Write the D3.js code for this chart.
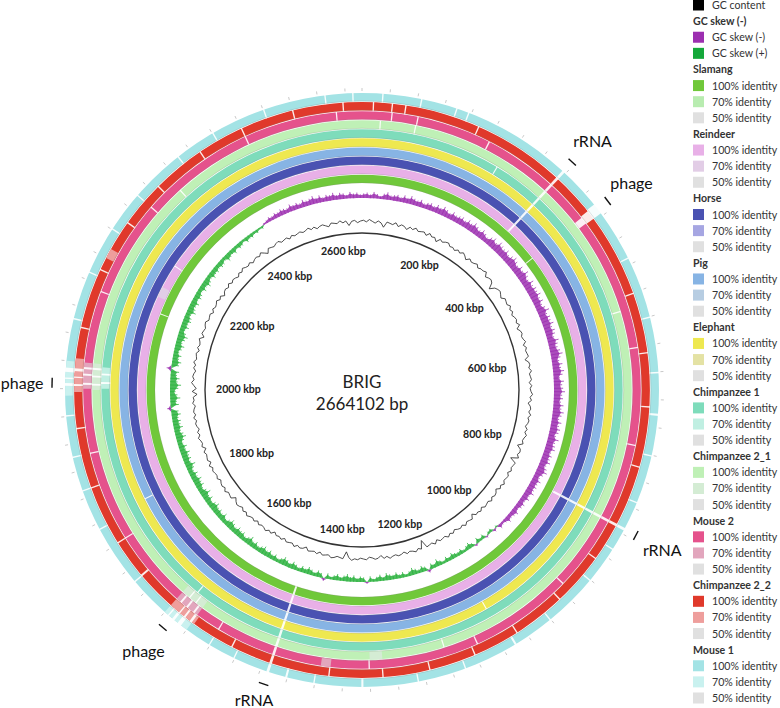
<!DOCTYPE html>
<html>
<head>
<meta charset="utf-8">
<script src="https://cdn.jsdelivr.net/npm/d3@7"></script>
<style>
  body { margin: 0; background: #fff; }
  svg { display: block; font-family: Lato, "Open Sans", sans-serif; }
</style>
</head>
<body>
<svg width="780" height="708"></svg>
<script>
// genome length in kbp
const genomeKbp = 2664.102;

// rings, inner -> outer (same order as legend)
const genomes = ["Slamang", "Reindeer", "Horse", "Pig", "Elephant", "Chimpanzee 1",
  "Chimpanzee 2_1", "Mouse 2", "Chimpanzee 2_2", "Mouse 1"];
const color100 = ["#70c83a", "#e8b0e7", "#4a52b2", "#87b4e4", "#eee850", "#7edcbb",
  "#bff0b6", "#e5528c", "#e0392b", "#a3e3e5"];
const color70 = ["#b8ecb0", "#e2cde6", "#a6a6e2", "#b7cde2", "#e4e2a4", "#c0efe2",
  "#d4ecd4", "#e2a6bd", "#ee9e9c", "#c9f1ef"];
const color50 = "#e0e0e0";

// no-hit stretches per ring [start, end] kbp
const gaps = [
  [[1467, 1471], [386, 388], [2150, 2152]],
  [[314, 318], [871, 875], [1467, 1471], [2245, 2247]],
  [[314, 318], [871, 875], [1467, 1471]],
  [[314, 318], [871, 875], [1467, 1471], [1800, 1802]],
  [[314, 318], [871, 875], [1467, 1471], [1112, 1114]],
  [[230, 232], [314, 318], [871, 875], [1467, 1471], [1620, 1622], [2008, 2011], [2022, 2025]],
  [[28, 30], [84, 86], [314, 318], [540, 542], [871, 875], [1200, 1202], [1467, 1471], [1612, 1614],
   [1625, 1627], [2005, 2008], [2018, 2021], [2030, 2033], [2350, 2352]],
  [[45, 47], [85, 87], [200, 202], [314, 318], [384, 395], [600, 602], [750, 752], [871, 875], [990, 992],
   [1150, 1152], [1320, 1322], [1467, 1471], [1560, 1562], [1605, 1608], [1618, 1621], [1630, 1633],
   [1760, 1762], [1900, 1902], [2006, 2009], [2020, 2023], [2030, 2033], [2150, 2152], [2300, 2302],
   [2480, 2482], [2624, 2626]],
  [[16, 18], [44, 46], [64, 66], [176, 178], [314, 318], [382, 396], [520, 522], [610, 612], [690, 692],
   [780, 782], [871, 875], [930, 932], [1010, 1012], [1090, 1092], [1160, 1162], [1230, 1232], [1300, 1302],
   [1380, 1382], [1467, 1471], [1530, 1532], [1600, 1604], [1612, 1615], [1622, 1624], [1700, 1703],
   [1760, 1762], [1850, 1852], [1940, 1942], [2004, 2007], [2016, 2018], [2026, 2030], [2090, 2092],
   [2180, 2182], [2260, 2262], [2330, 2332], [2410, 2412], [2480, 2482], [2560, 2562], [2635, 2637]],
  [[29, 31], [85, 87], [137, 139], [155, 157], [314, 318], [380, 396], [470, 472], [560, 562], [640, 642],
   [700, 703], [760, 762], [830, 832], [871, 875], [905, 907], [960, 962], [1040, 1042], [1100, 1103],
   [1180, 1182], [1250, 1252], [1330, 1333], [1400, 1402], [1440, 1443], [1467, 1471], [1520, 1522],
   [1560, 1562], [1610, 1616], [1622, 1626], [1632, 1634], [1700, 1702], [1790, 1792], [1850, 1852],
   [1900, 1902], [1960, 1962], [2004, 2008], [2014, 2016], [2024, 2030], [2100, 2102], [2170, 2172],
   [2240, 2242], [2300, 2302], [2380, 2382], [2440, 2442], [2520, 2522], [2610, 2612], [2650, 2652]]
];

// 70% identity stretches per ring
const lowHits = [
  [], [[2180, 2200]], [], [], [], [[2000, 2035]],
  [[1300, 1320], [1600, 1640], [1998, 2040]],
  [[1380, 1395], [1600, 1640], [2000, 2040]],
  [[1596, 1640], [1995, 2045], [2200, 2215]],
  [[1600, 1640], [1990, 2040]]
];

const tickKbp = [200, 400, 600, 800, 1000, 1200, 1400, 1600, 1800, 2000, 2200, 2400, 2600];
const annotLabels = ["rRNA", "phage", "rRNA", "rRNA", "phage", "phage"];
const annotKbp = [316, 388, 873, 1469, 1628, 2008];

// GC skew, one value per window (x0.01); negative = purple
const gcSkew = [
  -5,-6,-4,-7,-5,-3,-6,-8,-5,-6, -7,-5,-8,-6,-9,-7,-6,-8,-5,-7,
  -8,-6,-9,-7,-10,-8,-6,-9,-7,-8, -9,-7,-10,-8,-11,-9,-7,-10,-8,-6,
  -9,-11,-8,-12,-10,-9,-11,-8,-10,-12, -10,-8,-11,-9,-13,-10,-8,-12,-9,-11,
  -10,-12,-9,-11,-8,-10,-13,-9,-11,-10, -12,-9,-11,-10,-8,-12,-10,-9,-11,-13,
  -10,-8,-11,-9,-12,-10,-7,-11,-9,-10, -12,-9,-10,-8,-11,-9,-12,-10,-8,-11,
  -9,-11,-10,-8,-12,-9,-10,-11,-8,-10, -9,-11,-8,-10,-12,-9,-7,-10,-8,-9,
  -8,-10,-7,-9,-6,-8,-7,-5,-8,-6, -5,-7,-4,-3,-5,2,-3,4,3,-2,
  5,3,6,-2,4,7,5,3,6,4, 5,7,4,6,3,5,8,4,6,-3,
  5,7,4,6,8,5,3,6,4,7, 5,6,8,4,7,5,3,6,-2,5,
  6,4,7,5,8,6,4,7,5,3, 6,-3,5,7,4,6,8,5,7,4,
  6,8,5,7,9,6,4,7,5,8, 6,9,7,5,8,6,10,7,5,8,
  7,9,6,8,10,7,5,9,6,8, 7,10,8,6,9,7,11,8,6,9,
  8,10,7,9,6,8,11,7,9,8, 10,7,9,6,8,11,9,7,10,8,
  9,7,10,8,-4,9,7,11,8,6, 9,12,8,10,7,9,-5,8,10,7,
  9,6,8,10,7,9,11,8,6,9, 7,9,8,6,10,8,7,9,6,8,
  7,5,8,6,9,7,5,8,6,7, 5,7,6,4,8,6,5,7,4,6,
  5,3,6,4,5,3,4,2,3,-2, -3,-5,-4,-6,-5,-7,-6,-5,-8,-6,
  -7,-5,-8,-6,-7,-9,-6,-8,-5,-7, -6,-8,-5,-7,-6,-4,-7,-5,-6,-4
];

// GC content deviation from the mean, one value per window
const gcContent = [
  1,-1,2,0,-2,1,-1,-6,1,0, -1,2,-2,1,0,-3,1,-1,2,-1,
  0,1,-2,2,-1,0,-4,1,-1,1, 2,-1,0,-2,1,-1,2,0,-3,1,
  -1,0,2,-1,1,1,3,-2,0,1, -1,-8,-2,0,1,-1,-3,1,0,-1,
  2,-1,1,-2,0,1,-1,2,-3,0, 1,-1,0,2,-2,1,-1,0,1,-4,
  0,1,-1,2,-1,0,1,-2,1,-1, 0,2,-1,1,-3,0,1,-1,2,-1,
  1,0,-2,1,-1,2,0,-1,1,-5, 0,1,-1,2,-7,1,0,-1,1,-2,
  1,0,-1,2,-1,1,-3,0,1,-1, 2,-1,0,1,-2,1,-1,0,-4,1,
  0,-1,2,-1,1,0,-2,1,-1,2, -1,0,1,-2,2,-1,0,1,-9,1,
  -1,2,0,-1,1,-2,0,1,-1,0, 2,-1,1,-3,0,1,-1,-2,1,0,
  -1,1,0,2,-1,-8,1,0,-1,1, 2,-1,0,1,-2,1,-1,0,1,-3,
  0,1,-1,2,-1,0,1,-2,1,-1, 0,-3,1,-1,2,0,-1,1,-2,1,
  -1,0,2,-1,1,-2,0,1,-1,-4, 1,0,-1,2,-1,1,0,-2,1,-1,
  0,1,-1,2,-2,1,0,-1,1,-3, 1,-1,0,2,-1,1,-2,0,1,-1,
  2,-1,1,0,-2,1,-1,0,-5,1, -4,-1,2,-1,1,0,-2,1,-1,2,
  -1,0,1,-2,1,-1,0,2,-3,1, 0,-1,1,2,-1,0,1,-2,1,-1,
  0,2,-1,1,-3,0,1,-1,2,-1, 1,0,-2,1,-1,2,0,-1,1,-2,
  0,1,-1,2,-1,-4,1,0,-1,1, 2,-1,0,1,-2,1,-1,0,1,-1,
  0,2,-1,1,-2,0,1,-1,-3,1, 0,-1,2,-1,1,-5,0,1,-2,0
];

const svg = d3.select("svg");
const cx = 362, cy = 390;
const g = svg.append("g").attr("transform", `translate(${cx},${cy})`);

const angle = d3.scaleLinear().domain([0, genomeKbp]).range([0, 2 * Math.PI]);
const ringR = d3.scaleBand().domain(genomes).range([207, 297]).paddingInner(0.08);
const px = (r, a) => [r * Math.sin(a), -r * Math.cos(a)];

// identity rings
genomes.forEach((name, k) => {
  const r0 = ringR(name), r1 = r0 + ringR.bandwidth();
  const arc = d3.arc().innerRadius(r0).outerRadius(r1);
  g.append("path")
    .attr("d", arc({ startAngle: 0, endAngle: 2 * Math.PI }))
    .attr("fill", color100[k]);
  g.selectAll(null).data(lowHits[k]).enter().append("path")
    .attr("d", d => arc({ startAngle: angle(d[0]), endAngle: angle(d[1]) }))
    .attr("fill", color70[k]);
  const gapArc = d3.arc().innerRadius(r0 - 0.6).outerRadius(r1 + 0.6);
  g.selectAll(null).data(gaps[k]).enter().append("path")
    .attr("d", d => gapArc({ startAngle: angle(d[0]), endAngle: angle(d[1]) }))
    .attr("fill", "#fff")
    .attr("fill-opacity", 0.9);
  g.append("circle").attr("r", r0 + 0.3)
    .attr("fill", "none").attr("stroke", "#777")
    .attr("stroke-opacity", 0.35).attr("stroke-width", 0.6);
});

// faint ticks outside the outer ring
g.selectAll(null).data(d3.range(0, genomeKbp, 40)).enter().append("line")
  .attr("x1", d => px(299, angle(d))[0]).attr("y1", d => px(299, angle(d))[1])
  .attr("x2", d => px(302, angle(d))[0]).attr("y2", d => px(302, angle(d))[1])
  .attr("stroke", "#bbb").attr("stroke-width", 0.8);

// GC skew
const windowKbp = genomeKbp / gcSkew.length;
const skewBase = 192;
const skewScale = d3.scaleLinear().domain([0, 12]).range([0, 11]);
const skewPts = gcSkew.map((v, i) => ({ a: angle((i + 0.5) * windowKbp), v }));
skewPts.push({ a: skewPts[0].a + 2 * Math.PI, v: skewPts[0].v });

const negArea = d3.areaRadial()
  .angle(d => d.a)
  .innerRadius(skewBase)
  .outerRadius(d => skewBase + skewScale(Math.max(-d.v, 0)) * 0.75);
const posArea = d3.areaRadial()
  .angle(d => d.a)
  .innerRadius(d => skewBase - skewScale(Math.max(d.v, 0)) * 0.75)
  .outerRadius(skewBase);

g.append("path").attr("d", negArea(skewPts)).attr("fill", "#9c2fb0").attr("fill-opacity", 0.85);
g.append("path").attr("d", posArea(skewPts)).attr("fill", "#2bb23e").attr("fill-opacity", 0.85);
g.selectAll(null).data(skewPts.slice(0, -1)).enter().append("line")
  .attr("x1", d => px(skewBase, d.a)[0]).attr("y1", d => px(skewBase, d.a)[1])
  .attr("x2", d => px(skewBase + (d.v < 0 ? 1 : -1) * skewScale(Math.abs(d.v)), d.a)[0])
  .attr("y2", d => px(skewBase + (d.v < 0 ? 1 : -1) * skewScale(Math.abs(d.v)), d.a)[1])
  .attr("stroke", d => d.v < 0 ? "#9c2fb0" : "#2bb23e")
  .attr("stroke-width", 0.8);

// GC content
const gcWin = genomeKbp / gcContent.length;
const gcScale = d3.scaleLinear().domain([-10, 10]).range([161, 177]);
const gcLine = d3.lineRadial()
  .angle((d, i) => angle((i + 0.5) * gcWin))
  .radius(d => gcScale(d))
  .curve(d3.curveLinearClosed);
g.append("path").attr("d", gcLine(gcContent))
  .attr("fill", "none").attr("stroke", "#222").attr("stroke-width", 0.8);

// backbone circle
g.append("circle").attr("r", 157)
  .attr("fill", "none").attr("stroke", "#333").attr("stroke-width", 1.4);

// kbp labels inside the backbone
const tickText = g.selectAll(null).data(tickKbp).enter().append("text")
  .text(d => d + " kbp")
  .attr("text-anchor", "middle")
  .attr("dominant-baseline", "central")
  .attr("font-size", "10.6px")
  .attr("font-weight", "bold")
  .attr("fill", "#222");
tickText.each(function (d) {
  const a = angle(d), w = this.getComputedTextLength(), h = 11, R = 146;
  d3.select(this)
    .attr("x", R * Math.sin(a) - (w / 2) * Math.sin(a))
    .attr("y", -R * Math.cos(a) + (h / 2) * Math.cos(a));
});

// centre title
g.append("text").text("BRIG").attr("text-anchor", "middle")
  .attr("y", -2).attr("font-size", "17px").attr("fill", "#222");
g.append("text").text("2664102 bp").attr("text-anchor", "middle")
  .attr("y", 20).attr("font-size", "17px").attr("fill", "#222");

// feature annotations: tangential tick + label further out
annotKbp.forEach((pos, i) => {
  const a = angle(pos);
  const [mx, my] = px(310, a);
  const tx = Math.cos(a) * 5, ty = Math.sin(a) * 5;
  g.append("line")
    .attr("x1", mx - tx).attr("y1", my - ty)
    .attr("x2", mx + tx).attr("y2", my + ty)
    .attr("stroke", "#111").attr("stroke-width", 1.4);
  const [lx, ly] = px(340, a);
  g.append("text").text(annotLabels[i])
    .attr("x", lx)
    .attr("y", Math.min(ly, 699 - cy))
    .attr("text-anchor", "middle")
    .attr("dominant-baseline", "central")
    .attr("font-size", "16px")
    .attr("fill", "#111");
});

// legend
const legendRows = [{ kind: "item", text: "GC content", color: "#000" },
  { kind: "head", text: "GC skew (-)" },
  { kind: "item", text: "GC skew (-)", color: "#9c2fb0" },
  { kind: "item", text: "GC skew (+)", color: "#14a83a" }];
genomes.forEach((name, k) => {
  legendRows.push({ kind: "head", text: name });
  legendRows.push({ kind: "item", text: "100% identity", color: color100[k] });
  legendRows.push({ kind: "item", text: "70% identity", color: color70[k] });
  legendRows.push({ kind: "item", text: "50% identity", color: color50 });
});
const rowY = d3.scaleLinear().domain([0, legendRows.length - 1]).range([5, 698]);
const legend = svg.append("g");
legendRows.forEach((d, i) => {
  const y = rowY(i);
  if (d.kind === "item") {
    legend.append("rect").attr("x", 693).attr("y", y - 5.5)
      .attr("width", 11).attr("height", 11).attr("fill", d.color);
    legend.append("text").attr("x", 712).attr("y", y)
      .attr("dominant-baseline", "central")
      .attr("font-size", "10.6px").attr("fill", "#333").text(d.text);
  } else {
    legend.append("text").attr("x", 693).attr("y", y)
      .attr("dominant-baseline", "central")
      .attr("font-size", "10.6px").attr("font-weight", "bold")
      .attr("fill", "#333").text(d.text);
  }
});
</script>
</body>
</html>
